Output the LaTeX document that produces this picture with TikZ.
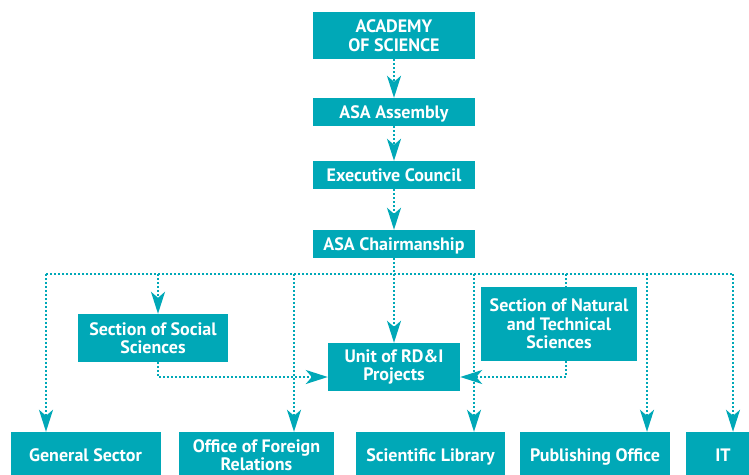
\documentclass[tikz,border=0pt]{standalone}
\usepackage{fontspec}
\setmainfont{PT Sans}
\usetikzlibrary{arrows.meta, positioning}
\definecolor{asateal}{RGB}{0,168,183}

\tikzset{
  unit/.style={fill=asateal, text=white, font=\bfseries\fontsize{18}{18.5}\selectfont,
    align=center, inner sep=0pt, minimum height=28pt},
  oneline/.style={text height=12pt, text depth=0pt},
  bus/.style={asateal, line width=2pt, dash pattern=on 2pt off 2pt},
  link/.style={bus, -{Stealth[length=22pt, width=14pt, inset=6pt]}},
}

\begin{document}
\begin{tikzpicture}[x=1pt, y=-1pt]
  \useasboundingbox (0,0) rectangle (749,474);
  \clip (0,0) rectangle (749,474);

  % governing bodies
  \node[unit, minimum width=162pt, minimum height=47pt] (academy) at (394,35.5) {ACADEMY\\OF SCIENCE};
  \node[unit, oneline, minimum width=162pt] (assembly) at (394,112) {ASA Assembly};
  \node[unit, oneline, minimum width=162pt] (council) at (394,175) {Executive Council};
  \node[unit, oneline, minimum width=162pt] (chair) at (394,244) {ASA Chairmanship};

  % sections and unit
  \node[unit, minimum width=150pt, minimum height=48pt] (social) at (153,338) {Section of Social\\Sciences};
  \node[unit, minimum width=132pt, minimum height=48pt] (rdi) at (394,367) {Unit of RD\&I\\Projects};
  \node[unit, minimum width=156pt, minimum height=74pt] (natural) at (559,324) {Section of Natural\\and Technical\\Sciences};

  % offices
  \node[unit, oneline, minimum width=150pt, minimum height=46pt] (general) at (85.5,455) {General Sector};
  \node[unit, minimum width=155pt, minimum height=46pt] (foreign) at (256.5,455) {Office of Foreign\\Relations};
  \node[unit, oneline, minimum width=149pt, minimum height=46pt] (library) at (430.5,455) {Scientific Library};
  \node[unit, oneline, minimum width=150pt, minimum height=46pt] (publishing) at (595,455) {Publishing Office};
  \node[unit, oneline, minimum width=74pt, minimum height=46pt] (it) at (723,455) {IT};

  % taps on the bus
  \coordinate (tapgen) at (46,274);
  \coordinate (tapsoc) at (158,274);
  \coordinate (tapfor) at (294,274);
  \coordinate (taplib) at (474,274);
  \coordinate (tapnat) at (566,274);
  \coordinate (tappub) at (647,274);
  \coordinate (tapit) at (733,274);

  \draw[link] (academy) -- (assembly);
  \draw[link] (assembly) -- (council);
  \draw[link] (council) -- (chair);
  \draw[link] (chair) -- (rdi);

  \draw[bus] (tapgen) -- (tapit);
  \draw[link] (tapgen) -- (tapgen |- general.north);
  \draw[link] (tapsoc) -- (tapsoc |- social.north);
  \draw[link] (tapfor) -- (tapfor |- foreign.north);
  \draw[link] (taplib) -- (taplib |- library.north);
  \draw[bus] (tapnat) -- (tapnat |- natural.north);
  \draw[link] (tappub) -- (tappub |- publishing.north);
  \draw[link] (tapit) -- (tapit |- it.north);

  \draw[link] (tapsoc |- social.south) |- ([yshift=-10pt]rdi.west);
  \draw[link] (tapnat |- natural.south) |- ([yshift=-10pt]rdi.east);
\end{tikzpicture}
\end{document}
